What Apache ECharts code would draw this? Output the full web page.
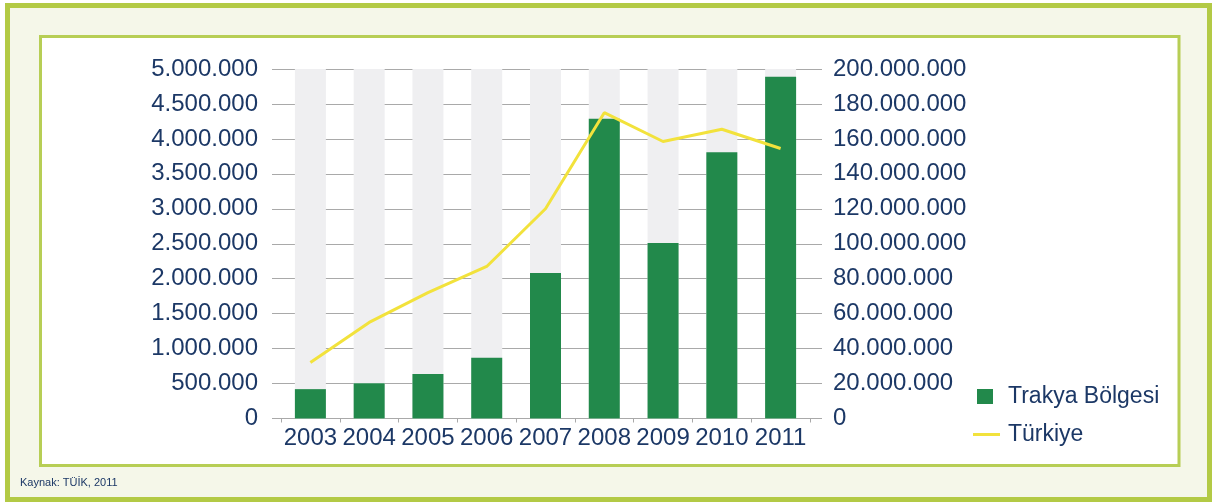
<!DOCTYPE html>
<html>
<head>
<meta charset="utf-8">
<script src="https://cdn.jsdelivr.net/npm/echarts@6/dist/echarts.min.js"></script>
<style>
html,body{margin:0;padding:0;background:#fff;}
#c{width:1214px;height:502px;}
</style>
</head>
<body>
<div id="c"></div>
<script>
var years = ['2003','2004','2005','2006','2007','2008','2009','2010','2011'];
var trakya = [420000, 505000, 635000, 870000, 2080000, 4290000, 2510000, 3810000, 4890000];
var turkiye = [32000000, 55000000, 72000000, 87000000, 120000000, 175000000, 158500000, 165500000, 154500000];
var leftTicks = {min: 0, max: 5000000, interval: 500000};
var rightTicks = {min: 0, max: 200000000, interval: 20000000};
var seriesNames = ['Trakya Bölgesi', 'Türkiye'];
var sourceText = 'Kaynak: TÜİK, 2011';

var txt = '#1c3866';
var gridC = '#a9a9a9';
var font = '"Liberation Sans", Arial, sans-serif';
function fmt(v){ return String(v).replace(/\B(?=(\d{3})+(?!\d))/g, '.'); }

var chart = echarts.init(document.getElementById('c'), null, {renderer:'canvas'});
chart.setOption({
  animation: false,
  backgroundColor: '#ffffff',
  textStyle: {fontFamily: font},
  graphic: [
    {type:'rect', z:-10, silent:true, shape:{x:7.5, y:5.5, width:1202, height:494},
     style:{fill:'#f5f7e9', stroke:'#b3ca45', lineWidth:5}},
    {type:'rect', z:-9, silent:true, shape:{x:40.5, y:36.5, width:1138.5, height:429},
     style:{fill:'#ffffff', stroke:'#b7ce55', lineWidth:3}},
    {type:'text', z:5, left:20, top:477, style:{text: sourceText, fill:txt, font:'11px ' + font}}
  ],
  grid: {left:281, top:69, width:529, height:349.5, containLabel:false},
  legend: [
    {data:[seriesNames[0]], left:977, top:385, padding:0, icon:'rect', itemWidth:16, itemHeight:15,
     textStyle:{color:txt, fontSize:23, fontFamily:font, padding:[0,0,0,10]}},
    {data:[seriesNames[1]], left:973, top:423, padding:0, icon:'rect', itemWidth:27, itemHeight:3,
     textStyle:{color:txt, fontSize:23, fontFamily:font, padding:[0,0,0,3]}}
  ],
  xAxis: {
    type:'category', data: years, boundaryGap:true,
    axisLine:{show:true, lineStyle:{color:gridC, width:1}},
    axisTick:{show:true, length:4, lineStyle:{color:gridC}},
    axisLabel:{color:txt, fontSize:24, fontFamily:font, margin:8, interval:0, hideOverlap:false}
  },
  yAxis: [
    {type:'value', min:leftTicks.min, max:leftTicks.max, interval:leftTicks.interval, position:'left',
     axisLine:{show:false}, axisTick:{show:true, length:9, lineStyle:{color:gridC}},
     splitLine:{show:true, lineStyle:{color:gridC, width:1}},
     axisLabel:{color:txt, fontSize:24, fontFamily:font, margin:23, formatter: fmt}},
    {type:'value', min:rightTicks.min, max:rightTicks.max, interval:rightTicks.interval, position:'right',
     axisLine:{show:false}, axisTick:{show:true, length:12, lineStyle:{color:gridC}},
     splitLine:{show:false},
     axisLabel:{color:txt, fontSize:24, fontFamily:font, margin:23, formatter: fmt}}
  ],
  series: [
    {name: seriesNames[0], type:'bar', data: trakya, yAxisIndex:0, barWidth:31,
     itemStyle:{color:'#22894b'}, showBackground:true, backgroundStyle:{color:'#efeff1'}},
    {name: seriesNames[1], type:'line', data: turkiye, yAxisIndex:1, showSymbol:false, symbol:'none',
     lineStyle:{color:'#f2e23c', width:3}, itemStyle:{color:'#f2e23c'}}
  ]
});
</script>
</body>
</html>
